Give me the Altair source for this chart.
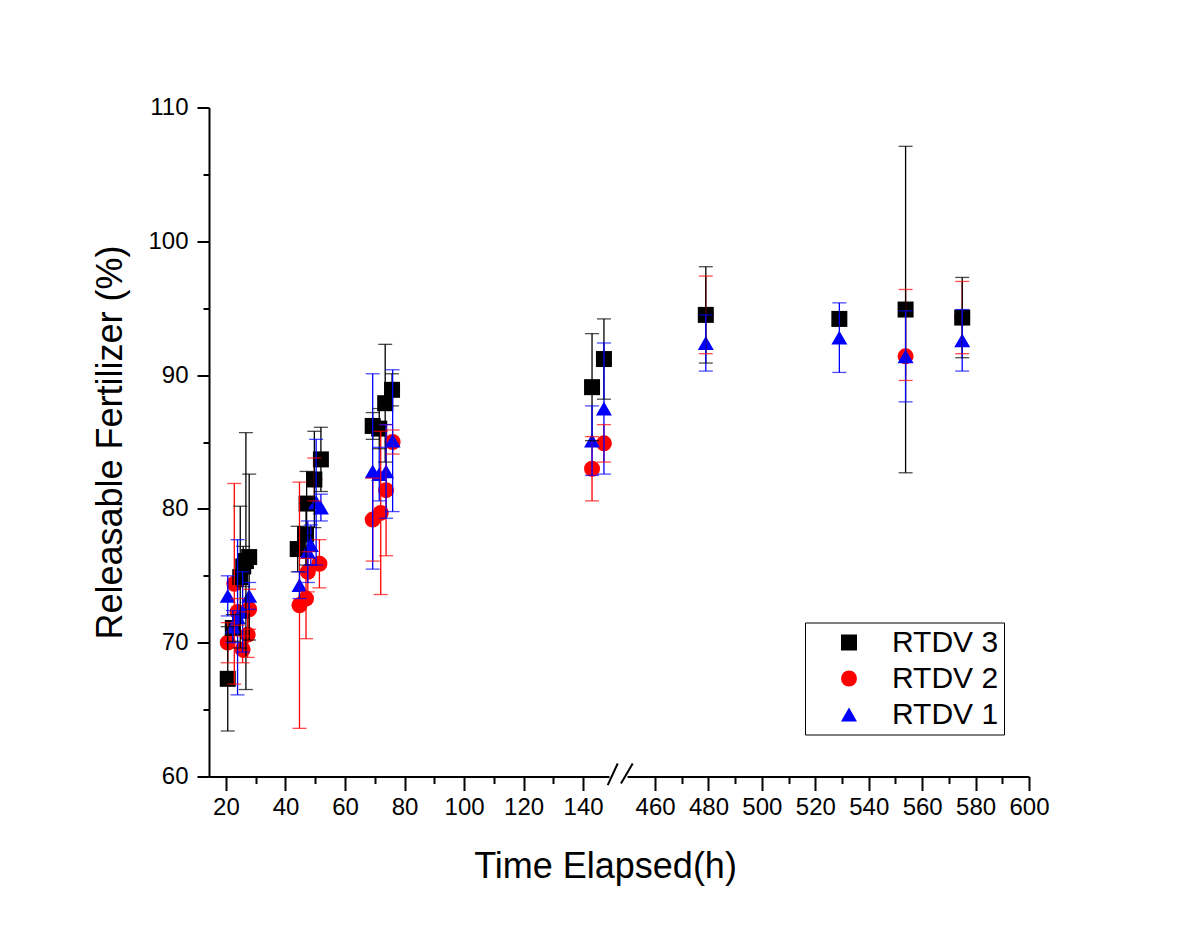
import altair as alt
import pandas as pd

FONT = "Liberation Sans"

series_names = ["RTDV 3", "RTDV 2", "RTDV 1"]
series_colors = ["#000000", "#ff0000", "#0000ff"]
series_shapes = ["square", "circle", "triangle-up"]
series_sizes = [256, 256, 420]

# RTDV 3 (black squares): time (h), value (%), error below, error above
t3 = [20.6, 22.3, 24.8, 25.8, 26.7, 27.8, 44.1, 46.9, 47.1, 49.7, 51.9,
      69.3, 71.5, 73.5, 75.8, 143.0, 147.0, 479, 529, 553.8, 575]
v3 = [67.3, 71.1, 74.9, 75.7, 76.1, 76.4, 77.0, 78.1, 80.4, 82.2, 83.7,
      86.2, 86.0, 87.9, 88.9, 89.1, 91.2, 94.5, 94.2, 94.9, 94.3]
e3 = [3.9, 1.0, 5.3, 1.5, 9.6, 6.2, 1.7, 2.3, 2.4, 3.6, 2.4,
      1.0, 1.5, 4.4, 1.2, 4.0, 3.0, 3.6, 0.5, 12.2, 3.0]
e3_up = e3

# RTDV 2 (red circles)
t2 = [20.6, 22.8, 23.9, 25.6, 27.3, 27.8, 44.7, 46.9, 47.5, 49.7, 51.4,
      69.3, 72.0, 73.8, 76.0, 143.0, 147.0, 479, 553.8, 575]
v2 = [70.0, 74.4, 72.3, 69.5, 70.6, 72.5, 72.8, 73.3, 75.3, 82.2, 75.9,
      79.2, 79.7, 81.4, 85.0, 83.0, 84.9, 94.5, 91.4, 94.3]
e2 = [1.5, 7.5, 1.0, 1.0, 1.7, 1.5, 9.2, 3.0, 1.5, 1.6, 1.8,
      3.1, 6.1, 4.9, 0.9, 2.4, 1.4, 2.9, 1.8, 2.7]
e2_up = [1.5, 7.5, 1.0, 1.0, 1.7, 1.5, 9.2, 3.0, 1.5, 1.6, 1.8,
         3.1, 6.1, 4.9, 0.9, 2.4, 1.4, 2.9, 5.0, 2.7]

# RTDV 1 (blue triangles)
t1 = [20.6, 22.3, 23.9, 25.6, 27.8, 44.7, 47.5, 48.5, 50.3, 51.9,
      69.3, 71.5, 73.8, 76.0, 143.0, 147.0, 479, 529, 553.8, 575]
v1 = [73.5, 71.2, 71.9, 72.3, 73.5, 74.3, 76.8, 77.3, 80.5, 80.1,
      82.8, 82.6, 82.8, 85.1, 85.1, 87.5, 92.4, 92.8, 91.4, 92.6]
e1 = [1.5, 1.2, 5.8, 3.0, 1.0, 1.0, 2.3, 1.5, 4.7, 1.0,
      7.3, 2.0, 3.5, 5.3, 2.6, 4.9, 2.1, 2.6, 3.4, 2.3]
e1_up = e1

left_domain = [14.3, 148.7]
right_domain = [449.5, 600]
left_ticks = [20, 30, 40, 50, 60, 70, 80, 90, 100, 110, 120, 130, 140]
right_ticks = [460, 470, 480, 490, 500, 510, 520, 530, 540, 550, 560, 570, 580, 590, 600]
y_domain = [60, 110]
y_ticks = [60, 65, 70, 75, 80, 85, 90, 95, 100, 105, 110]

rows = []
# draw order: red, black, blue
for name, ts, vs, es, eu in [("RTDV 2", t2, v2, e2, e2_up),
                             ("RTDV 3", t3, v3, e3, e3_up),
                             ("RTDV 1", t1, v1, e1, e1_up)]:
    for t, v, e, u in zip(ts, vs, es, eu):
        rows.append({"series": name, "t": t, "v": v, "lo": v - e, "hi": v + u})
df = pd.DataFrame(rows)

color_scale = alt.Scale(domain=series_names, range=series_colors)
shape_scale = alt.Scale(domain=series_names, range=series_shapes)
size_scale = alt.Scale(domain=series_names, range=series_sizes)


def make_panel(domain, ticks, show_y, show_legend, xtitle):
    extra = {}
    if xtitle:
        extra = {"titleX": 396, "titleY": 101, "titleBaseline": "alphabetic", "titleAlign": "center"}
    xaxis = alt.Axis(
        values=ticks,
        labelExpr="datum.value % 20 == 0 ? datum.label : ''",
        tickSize={"condition": {"test": "datum.value % 20 == 0", "value": 14}, "value": 7},
        title=xtitle if xtitle else None,
        labelPadding=5,
        labelFlush=False,
        labelOverlap=False,
        **extra,
    )
    if show_y:
        yaxis = alt.Axis(
            values=y_ticks,
            labelExpr="datum.value % 10 == 0 ? datum.label : ''",
            tickSize={"condition": {"test": "datum.value % 10 == 0", "value": 12}, "value": 6},
            title="Releasable Fertilizer (%)",
            titleX=-88,
            titleBaseline="alphabetic",
            labelPadding=9,
        )
    else:
        yaxis = None

    xs = alt.Scale(domain=domain, nice=False, zero=False)
    ys = alt.Scale(domain=y_domain, nice=False, zero=False)

    if show_legend:
        leg = alt.Legend(
            orient="none", legendX=178, legendY=515, title=None,
            strokeColor="black", fillColor="white", padding=5,
            labelFont=FONT, labelFontSize=30, labelColor="black",
            symbolSize=256, symbolOffset=24, labelOffset=28, rowPadding=6,
            symbolStrokeWidth=0,
        )
    else:
        leg = None

    base = alt.Chart(df).transform_filter(
        f"datum.t >= {domain[0]} && datum.t <= {domain[1]}"
    )

    x_enc = alt.X("t:Q", scale=xs, axis=xaxis)

    points = base.mark_point(filled=True, opacity=1, strokeWidth=0).encode(
        x=x_enc,
        y=alt.Y("v:Q", scale=ys, axis=yaxis),
        color=alt.Color("series:N", scale=color_scale, legend=leg),
        shape=alt.Shape("series:N", scale=shape_scale, legend=leg),
        size=alt.Size("series:N", scale=size_scale, legend=None),
    )
    bars = base.mark_rule(strokeWidth=1.3).encode(
        x=x_enc,
        y=alt.Y("lo:Q", scale=ys, axis=yaxis),
        y2="hi:Q",
        color=alt.Color("series:N", scale=color_scale, legend=leg),
    )
    caps = base.transform_fold(["lo", "hi"], as_=["end", "yy"]).mark_tick(
        orient="horizontal", size=14, thickness=1.3
    ).encode(
        x=x_enc,
        y=alt.Y("yy:Q", scale=ys, axis=yaxis),
        color=alt.Color("series:N", scale=color_scale, legend=leg),
    )
    layers = [points, bars, caps]
    if show_y:
        s1 = alt.Chart(pd.DataFrame({"k": [0]})).mark_rule(color="black", strokeWidth=2).encode(
            x=alt.value(398.7), x2=alt.value(408.7), y=alt.value(677.7), y2=alt.value(656)
        )
        s2 = alt.Chart(pd.DataFrame({"k": [0]})).mark_rule(color="black", strokeWidth=2).encode(
            x=alt.value(412), x2=alt.value(423.7), y=alt.value(676), y2=alt.value(656)
        )
        layers += [s1, s2]
    return alt.layer(*layers).properties(width=400 if show_y else 402, height=669)


left = make_panel(left_domain, left_ticks, True, False, "Time Elapsed(h)")
right = make_panel(right_domain, right_ticks, False, True, None)

chart = alt.hconcat(left, right, spacing=18, bounds="flush").resolve_legend(
    color="independent", shape="independent"
).properties(
    padding={"left": 84, "top": 87.5, "right": 5, "bottom": 5}
).configure_view(stroke=None).configure_axis(
    domainColor="black", domainWidth=2, tickColor="black", tickWidth=2,
    labelFont=FONT, labelFontSize=24, labelColor="black",
    titleFont=FONT, titleFontSize=36, titleColor="black", titleFontWeight="normal",
    grid=False,
)

chart.save("out.html", embed_options={"renderer": "svg", "actions": False})
